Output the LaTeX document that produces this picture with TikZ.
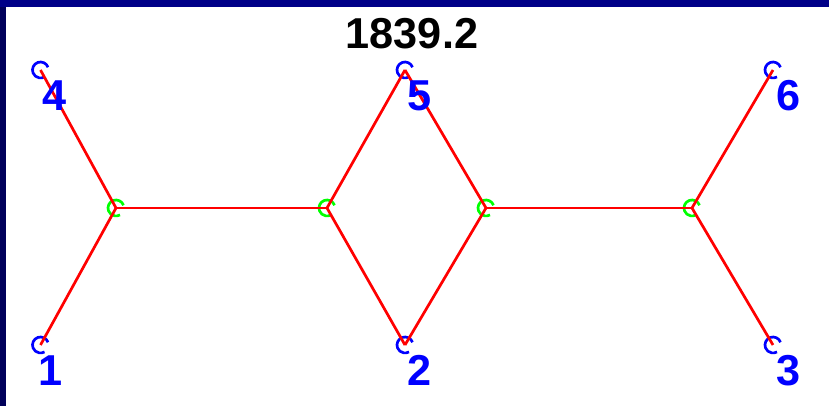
\documentclass[tikz,border=0pt]{standalone}
\usepackage{fontspec}
\setmainfont{Liberation Sans}
\definecolor{framenavy}{HTML}{000088}
\definecolor{frameside}{HTML}{00005A}
\definecolor{edgered}{HTML}{FF0000}
\definecolor{tipblue}{HTML}{0000FF}
\definecolor{forkgreen}{HTML}{00FF00}

\begin{document}
\begin{tikzpicture}[x=0.01cm,y=0.01cm,
   edge/.style={edgered,line width=0.77pt},
   ring/.style={line width=0.77pt},
   num/.style={anchor=base west,inner sep=0pt,text=tipblue,font=\fontsize{12.3}{14}\selectfont\bfseries}]
  \def\rr{8}
  % window of 829 x 406, y counted up from the bottom edge

  % ---- frame ----
  \useasboundingbox (0,0) rectangle (829,406);
  \fill[white] (0,0) rectangle (829,406);
  \fill[framenavy] (0,399) rectangle (829,406);
  \fill[frameside] (0,0) rectangle (6,399);

  % ---- score ----
  \node[anchor=base,inner sep=0pt,font=\fontsize{12.3}{14}\selectfont\bfseries] (score) at (412,357) {1839.2};

  % ---- tips (blue) and forks (green) ----
  \coordinate (t4) at (40.5,336);
  \coordinate (t5) at (405,336);
  \coordinate (t6) at (773,336);
  \coordinate (t1) at (40.5,61);
  \coordinate (t2) at (405,61);
  \coordinate (t3) at (773,61);
  \coordinate (fa) at (116,198);
  \coordinate (fb) at (327,198);
  \coordinate (fc) at (486,198);
  \coordinate (fd) at (692,198);

  \foreach \i in {1,...,6}
    \draw[ring,tipblue] (t\i) ++(20:\rr) arc (20:300:\rr);
  \foreach \f in {a,b,c,d}
    \draw[ring,forkgreen] (f\f) ++(20:\rr) arc (20:300:\rr);

  % ---- branches ----
  \draw[edge] (t4) -- (fa);
  \draw[edge] (t1) -- (fa);
  \draw[edge] (fa) -- (fb);
  \draw[edge] (fb) -- (t5);
  \draw[edge] (fb) -- (t2);
  \draw[edge] (fc) -- (t5);
  \draw[edge] (fc) -- (t2);
  \draw[edge] (fc) -- (fd);
  \draw[edge] (fd) -- (t6);
  \draw[edge] (fd) -- (t3);

  % ---- tip numbers ----
  \node[num] (l4) at (42,295) {4};
  \node[num] (l5) at (407,295) {5};
  \node[num] (l6) at (776,295) {6};
  \node[num] (l1) at (38,20) {1};
  \node[num] (l2) at (407,20) {2};
  \node[num] (l3) at (776,20) {3};
\end{tikzpicture}
\end{document}
